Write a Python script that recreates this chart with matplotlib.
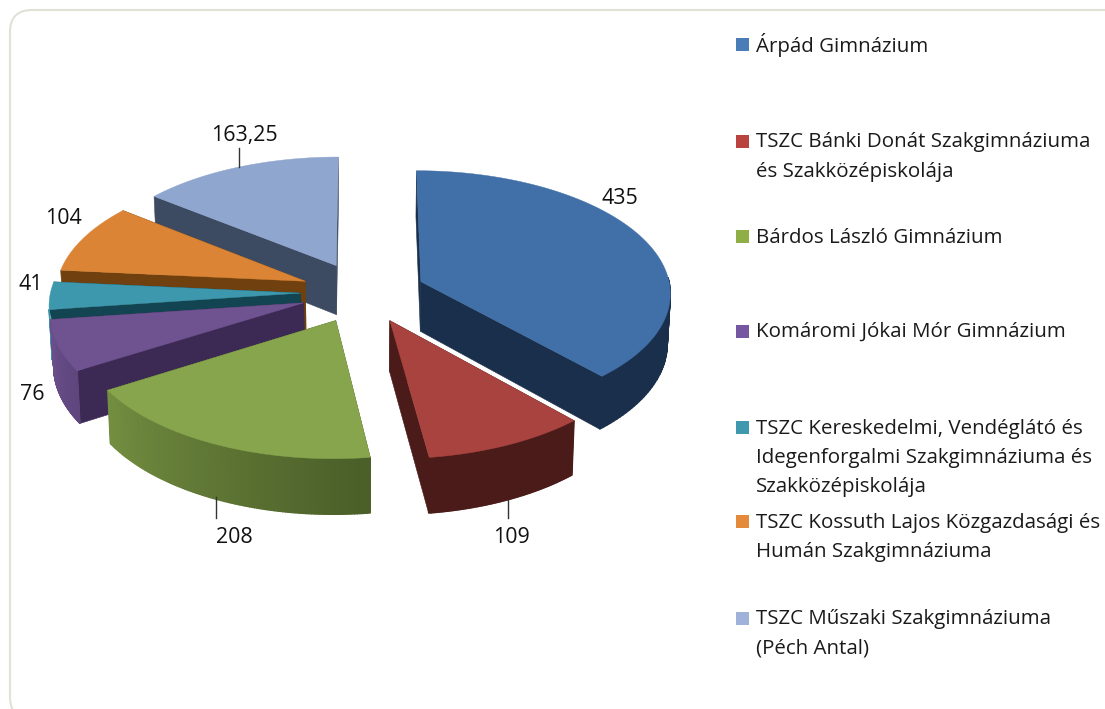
import numpy as np
import matplotlib
matplotlib.use('Agg')
import matplotlib.pyplot as plt
from matplotlib.patches import Polygon, Rectangle, FancyBboxPatch
from matplotlib.colors import to_rgb

# data
schools = ['Árpád Gimnázium',
           'TSZC Bánki Donát Szakgimnáziuma\nés Szakközépiskolája',
           'Bárdos László Gimnázium',
           'Komáromi Jókai Mór Gimnázium',
           'TSZC Kereskedelmi, Vendéglátó és\nIdegenforgalmi Szakgimnáziuma és\nSzakközépiskolája',
           'TSZC Kossuth Lajos Közgazdasági és\nHumán Szakgimnáziuma',
           'TSZC Műszaki Szakgimnáziuma\n(Péch Antal)']
values = [435, 109, 208, 76, 41, 104, 163.25]
value_labels = ['435', '109', '208', '76', '41', '104', '163,25']

top_colors = ['#4170a8', '#a84340', '#87a54c', '#6f5390', '#3d97ad', '#db8435', '#8fa6cf']
wall_colors = ['#1a2f4b', '#4a1b18', '#4b5f29', '#3c2a55', '#134451', '#70400f', '#3d4b62']
legend_colors = ['#4a7cb8', '#b8433f', '#8fae45', '#7556a0', '#3f98ae', '#e5893a', '#9fb2da']

# layout, in pixels of the picture
label_pos = [(620, 198), (511, 537.5), (234, 537.5), (32, 394), (31, 285), (63, 218), (244, 136)]
legend_y = [45, 157, 238, 332, 458, 537.5, 634]
marker_y = [44, 141, 236, 331, 427, 521, 618]
leaders = [(239, 148, 167), (508, 500, 518), (216, 497, 518)]

# pie geometry
cx, cy = 363, 292.5
R = 250
S = 121.8
k = 0.0827
explode = 0.25
# the teal slice's cut is only seen as a thin strip above the purple top
cut_depth = [50, 50, 50, 50, 12, 50, 50]
depth = 50


def project(u, v, low=0):
    w = 1 + k * v
    x = cx + R * u / w
    y = cy - S * v / w
    if low:
        x = cx + (x - cx) * 0.99
        y = y + low / w
    return x, y


def mix(c1, c2, t):
    a, b = np.array(to_rgb(c1)), np.array(to_rgb(c2))
    return tuple(a + (b - a) * t)


fig = plt.figure(figsize=(11.05, 7.09), dpi=100)
ax = fig.add_axes([0, 0, 1, 1])
ax.set_xlim(0, 1105)
ax.set_ylim(709, 0)
ax.axis('off')

# frame
ax.add_patch(FancyBboxPatch((30, 30), 1200, 669, boxstyle='round,pad=20,rounding_size=22',
                            fc='white', ec='#dfe2d5', lw=1.5, zorder=0))

angles = np.cumsum([0] + values) / sum(values) * 2 * np.pi
draw_order = [6, 0, 5, 4, 3, 2, 1]
z = 1
for i in draw_order:
    a0, a1 = angles[i], angles[i + 1]
    mid = (a0 + a1) / 2
    ou, ov = explode * np.sin(mid), explode * np.cos(mid)
    t = np.linspace(a0, a1, 120)
    au, av = ou + np.sin(t), ov + np.cos(t)

    # radial cuts
    for a in (a0, a1):
        eu, ev = ou + np.sin(a), ov + np.cos(a)
        d = cut_depth[i]
        pts = [project(ou, ov), project(eu, ev), project(eu, ev, d), project(ou, ov, d)]
        ax.add_patch(Polygon(pts, fc=wall_colors[i], ec=wall_colors[i], lw=0.4, zorder=z))

    # outer wall, only the side facing us, lighter towards the left
    for j in range(len(t) - 1):
        deg = np.degrees((t[j] + t[j + 1]) / 2)
        if deg < 88 or deg > 262.5:
            continue
        shade = np.clip((deg - 175) / 85, 0, 1) if deg > 175 else 0
        c = mix(wall_colors[i], top_colors[i], shade * 0.9)
        pts = [project(au[j], av[j]), project(au[j + 1], av[j + 1]),
               project(au[j + 1], av[j + 1], depth), project(au[j], av[j], depth)]
        ax.add_patch(Polygon(pts, fc=c, ec=c, lw=1, zorder=z + 0.1))

    # top face
    px, py = project(au, av)
    ax_pts = [project(ou, ov)] + list(zip(px, py))
    ax.add_patch(Polygon(ax_pts, fc=top_colors[i], ec=top_colors[i], lw=0.3, zorder=z + 0.2))
    z += 1

for x, y0, y1 in leaders:
    ax.plot([x, x], [y0, y1], color='#333333', lw=1, zorder=20)

for (x, y), s in zip(label_pos, value_labels):
    ax.text(x, y, s, ha='center', va='center', fontsize=15.4, family='Open Sans',
            color='#111111', zorder=21)

# legend
for name, col, ty, my in zip(schools, legend_colors, legend_y, marker_y):
    ax.add_patch(Rectangle((736, my - 6), 13, 13, fc=col, ec='none', zorder=5))
    ax.text(756, ty, name, ha='left', va='center', fontsize=14.75, family='Open Sans',
            color='#1a1a1a', linespacing=1.62, zorder=5)

fig.savefig('out.png', dpi=100)
